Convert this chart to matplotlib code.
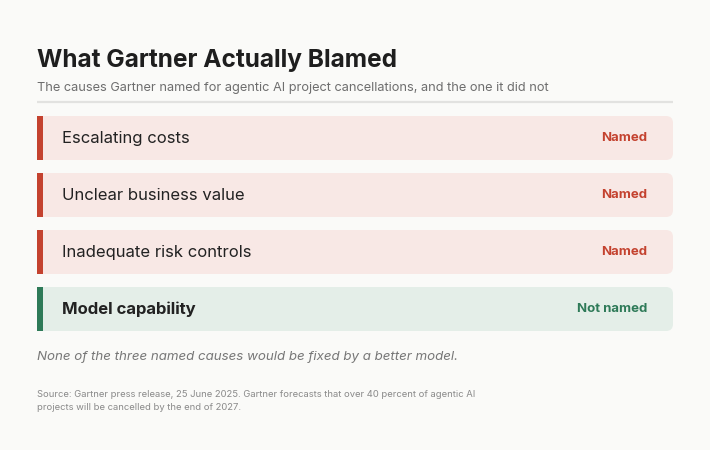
import matplotlib
matplotlib.use("Agg")
import matplotlib.pyplot as plt
from matplotlib.patches import FancyBboxPatch, Rectangle

# Data
causes = ["Escalating costs", "Unclear business value", "Inadequate risk controls", "Model capability"]
status = ["Named", "Named", "Named", "Not named"]
title = "What Gartner Actually Blamed"
subtitle = "The causes Gartner named for agentic AI project cancellations, and the one it did not"
note = "None of the three named causes would be fixed by a better model."
source = ("Source: Gartner press release, 25 June 2025. Gartner forecasts that over 40 percent of agentic AI\n"
          "projects will be cancelled by the end of 2027.")

# Styles
BG = "#FAFAF8"
RED, RED_BG = "#C4422F", "#F8E8E5"
GREEN, GREEN_BG = "#2E7A58", "#E4EEE8"
FONT = "Inter"

plt.rcParams["font.family"] = [FONT, "DejaVu Sans"]

fig = plt.figure(figsize=(7.1, 4.5), dpi=100)
fig.patch.set_facecolor(BG)
ax = fig.add_axes([0, 0, 1, 1])
ax.set_xlim(0, 710)
ax.set_ylim(450, 0)
ax.axis("off")

left, right = 37, 673

ax.text(left, 61, title, fontsize=17.6, fontweight="bold", color="#1E1E1E", va="center", ha="left")
ax.text(left, 88, subtitle, fontsize=9.2, color="#6E6E6E", va="center", ha="left")
ax.plot([left, right], [102, 102], color="#E2E2E0", lw=1.6, solid_capstyle="butt")

top0, h, step = 116, 44, 57
for i, (cause, st) in enumerate(zip(causes, status)):
    named = st == "Named"
    fg, bg = (RED, RED_BG) if named else (GREEN, GREEN_BG)
    y = top0 + i * step
    box = FancyBboxPatch((left, y), right - left, h,
                         boxstyle="round,pad=0,rounding_size=7",
                         facecolor=bg, edgecolor="none")
    ax.add_patch(box)
    # square off left corners, then accent bar
    ax.add_patch(Rectangle((left, y), 10, h, facecolor=bg, edgecolor="none"))
    ax.add_patch(Rectangle((left, y), 5.5, h, facecolor=fg, edgecolor="none"))
    ax.text(62, y + h / 2, cause, fontsize=12, color="#222222", va="center", ha="left",
            fontweight="normal" if named else "bold")
    ax.text(647, y + h / 2, st, fontsize=9.5, color=fg, va="center", ha="right", fontweight="bold")

ax.text(left, 357, note, fontsize=9.6, style="italic", color="#777777", va="center", ha="left")
ax.text(left, 401, source, fontsize=6.8, color="#8A8A8A", va="center", ha="left", linespacing=1.5)

fig.savefig("out.png", dpi=100, facecolor=BG)
